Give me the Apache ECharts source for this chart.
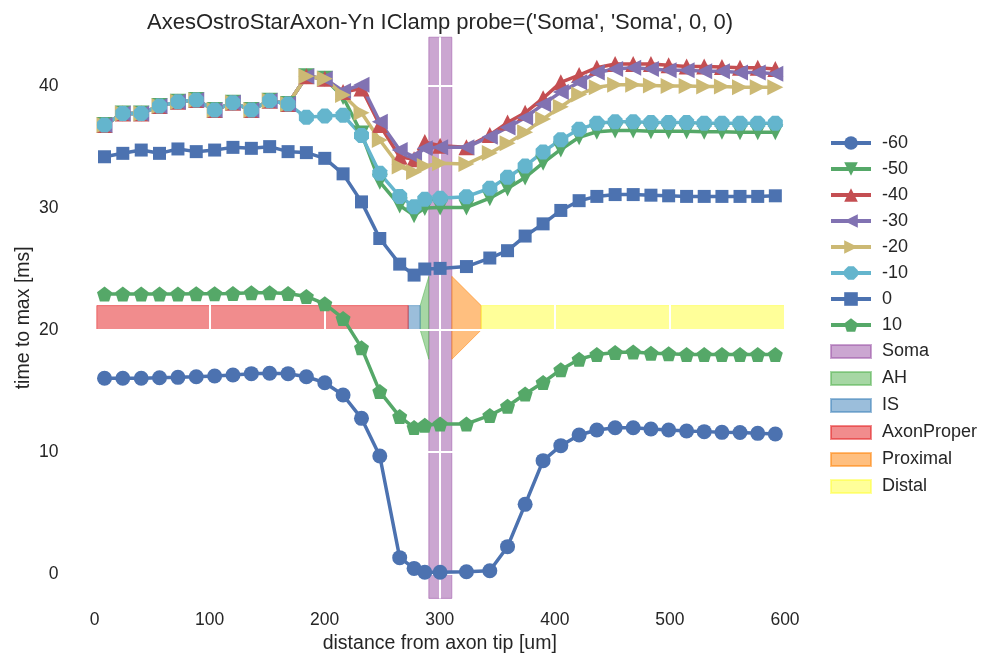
<!DOCTYPE html>
<html><head><meta charset="utf-8">
<script src="https://cdn.jsdelivr.net/npm/echarts@6/dist/echarts.min.js"></script>
<style>html,body{margin:0;padding:0;background:#fff}#c{width:984px;height:659px}</style>
</head><body><div id="c"></div>
<script>
// ---- data ----
const distance = [8.7, 24.6, 40.6, 56.5, 72.5, 88.4, 104.4, 120.3, 136.3, 152.2, 168.2, 184.1, 200.1, 216.0, 232.0, 247.9, 265.2, 277.7, 287.0, 300.3, 323.2, 343.5, 358.9, 374.2, 389.8, 405.2, 421.1, 436.5, 452.4, 468.1, 483.5, 498.9, 514.5, 529.8, 545.2, 560.9, 576.3, 591.6];
const tMinus60 = [16.04,16.04,16.04,16.09,16.12,16.17,16.23,16.31,16.42,16.45,16.42,16.17,15.68,14.67,12.76,9.67,1.34,0.46,0.14,0.14,0.19,0.27,2.24,5.71,9.29,10.52,11.39,11.8,11.99,11.99,11.89,11.8,11.72,11.67,11.61,11.6,11.53,11.48];
const tMinus50 = [36.8,37.75,37.75,38.36,38.7,38.85,38.03,38.63,38.03,38.8,38.52,40.8,40.6,39.1,36.1,32.15,30.2,29.4,30.0,30.05,30.05,30.8,31.6,32.5,33.7,34.8,35.8,36.25,36.35,36.35,36.3,36.3,36.3,36.25,36.25,36.2,36.2,36.2];
const tMinus40 = [36.8,37.75,37.75,38.36,38.7,38.85,38.03,38.63,38.03,38.8,38.52,40.8,40.6,39.5,39.8,36.8,34.2,34.0,35.4,35.1,34.97,35.98,37.0,37.8,39.0,40.3,40.9,41.5,41.8,41.8,41.8,41.7,41.6,41.6,41.55,41.5,41.5,41.4];
const tMinus30 = [36.8,37.75,37.75,38.36,38.7,38.85,38.03,38.63,38.03,38.8,38.52,40.8,40.6,39.6,40.1,37.07,34.75,34.2,34.9,34.97,34.97,35.85,36.6,37.4,38.5,39.5,40.3,41.1,41.4,41.5,41.4,41.3,41.3,41.2,41.2,41.1,41.1,41.0];
const tMinus20 = [36.8,37.75,37.75,38.36,38.7,38.85,38.03,38.63,38.03,38.8,38.52,40.8,40.6,39.26,37.8,35.57,33.4,32.95,33.44,33.66,33.6,34.5,35.3,36.2,37.3,38.3,39.3,39.9,40.1,40.1,40.05,40.0,40.0,39.95,39.95,39.9,39.9,39.9];
const tMinus10 = [36.8,37.75,37.75,38.36,38.7,38.85,38.03,38.63,38.03,38.8,38.52,37.43,37.54,37.6,35.95,32.84,30.95,30.11,30.71,30.79,30.93,31.62,32.52,33.44,34.6,35.6,36.45,36.94,37.07,37.07,37.0,37.0,37.0,36.95,36.95,36.95,36.95,36.95];
const tZero = [34.2,34.48,34.75,34.48,34.84,34.62,34.75,34.97,34.89,35.03,34.62,34.54,34.07,32.8,30.5,27.5,25.4,24.5,25.0,25.05,25.2,25.9,26.5,27.7,28.7,29.8,30.6,30.95,31.1,31.1,31.05,31.0,30.95,30.95,30.95,30.95,30.95,31.0];
const tPlus10 = [22.95,22.95,22.95,22.95,22.95,22.98,22.98,23.0,23.06,23.06,23.0,22.75,22.15,20.95,18.55,14.95,12.9,12.0,12.2,12.3,12.3,13.0,13.75,14.75,15.7,16.75,17.6,18.0,18.15,18.2,18.1,18.05,18.0,18.0,18.0,18.0,18.0,18.0];
const seriesNames = ['-60','-50','-40','-30','-20','-10','0','10'];
const seriesValues = [tMinus60,tMinus50,tMinus40,tMinus30,tMinus20,tMinus10,tZero,tPlus10];

const regionNames = ['Soma','AH','IS','AxonProper','Proximal','Distal'];
const regionStart = [290.5, 283.0, 272.6, 2.0, 310.5, 336.0];
const regionEnd   = [310.5, 290.5, 283.0, 272.6, 336.0, 600.0];
const regionFullHeight = [true,false,false,false,false,false];
const regionHalfAtStart = [0, 1.0, 1.0, 1.0, 3.4, 1.0];
const regionHalfAtEnd   = [0, 3.4, 1.0, 1.0, 1.0, 1.0];
const regionMid = 21;

const xTicks = [0,100,200,300,400,500,600];
const yTicks = [0,10,20,30,40];
const yMin = -2, yMax = 44;

// ---- styles ----
const lineColors = ['#4C72B0','#55A868','#C44E52','#8172B2','#CCB974','#64B5CD','#4C72B0','#55A868'];
const pent = 'path://M0,-1L0.951,-0.309L0.588,0.809L-0.588,0.809L-0.951,-0.309Z';
const oct = 'path://M0.383,-0.924L0.924,-0.383L0.924,0.383L0.383,0.924L-0.383,0.924L-0.924,0.383L-0.924,-0.383L-0.383,-0.924Z';
const symbols = ['circle','triangle','triangle','triangle','triangle',oct,'rect',pent];
const rotations = [0,180,0,90,-90,0,0,0];
const sizes = [15,16,16,16,16,15,13,15];
const regionFill = ['rgba(152,78,163,0.5)','rgba(77,175,74,0.5)','rgba(55,126,184,0.5)','rgba(228,26,28,0.5)','rgba(255,127,0,0.5)','rgba(255,255,51,0.5)'];
const rectIcon = 'path://M0,0L0.01,0M0,2L40,2L40,15L0,15ZM0,17L0.01,17';
const textColor = '#262626';
const font = '"Liberation Sans", Arial, sans-serif';

const series = [];
seriesNames.forEach((n,i)=>{
  series.push({
    name:n, type:'line', z:5,
    data: distance.map((d,k)=>[d, seriesValues[i][k]]),
    symbol: symbols[i], symbolSize: sizes[i], symbolRotate: rotations[i],
    showAllSymbol:true,
    lineStyle:{width:3.5,color:lineColors[i]},
    itemStyle:{color:lineColors[i], borderWidth:0},
    emphasis:{disabled:true}, animation:false
  });
});
regionNames.forEach((n,i)=>{
  series.push({
    name:n, type:'custom', z:1, animation:false,
    itemStyle:{color:regionFill[i], borderColor:regionFill[i], borderWidth:1},
    data:[[regionStart[i], regionEnd[i], regionHalfAtStart[i], regionHalfAtEnd[i]]],
    encode:{x:[0,1]},
    renderItem:function(params, api){
      const x0=api.value(0), x1=api.value(1), hs=api.value(2), he=api.value(3);
      let pts;
      if (regionFullHeight[i]) {
        pts=[api.coord([x0,yMax]),api.coord([x1,yMax]),api.coord([x1,yMin]),api.coord([x0,yMin])];
      } else {
        pts=[api.coord([x0,regionMid+hs]),api.coord([x1,regionMid+he]),api.coord([x1,regionMid-he]),api.coord([x0,regionMid-hs])];
      }
      return {type:'polygon', shape:{points:pts}, style:{fill:regionFill[i], stroke:regionFill[i], lineWidth:1}};
    }
  });
});

const legendData = seriesNames.map(n=>({name:n})).concat(regionNames.map(n=>({name:n, icon:rectIcon})));

const chart = echarts.init(document.getElementById('c'), null, {renderer:'canvas'});
chart.setOption({
  backgroundColor:'#fff',
  animation:false,
  title:{text:"AxesOstroStarAxon-Yn IClamp probe=('Soma', 'Soma', 0, 0)", left:435, textAlign:'center', top:7,
    textStyle:{fontSize:22, fontWeight:'normal', color:textColor, fontFamily:font}},
  grid:{left:94.5, right:199, top:37.2, bottom:60.6, containLabel:false},
  legend:{orient:'vertical', left:829, top:134, padding:0, itemWidth:40, itemHeight:17, itemGap:8.0,
    lineStyle:{width:4},
    data:legendData, textStyle:{fontSize:18, color:textColor, fontFamily:font, padding:[0,0,0,6]}, selectedMode:false},
  xAxis:{type:'value', min:0, max:600, z:3,
    name:'distance from axon tip [um]', nameLocation:'middle', nameGap:35, nameMoveOverlap:false,
    nameTextStyle:{fontSize:19.5,color:textColor,fontFamily:font},
    axisLine:{show:false}, axisTick:{show:false, customValues:xTicks},
    axisLabel:{customValues:xTicks, fontSize:17.5, color:textColor, fontFamily:font, margin:13},
    splitLine:{show:true, lineStyle:{color:'#ffffff', width:2}}},
  yAxis:{type:'value', min:yMin, max:yMax, z:3,
    name:'time to max [ms]', nameLocation:'middle', nameGap:61, nameMoveOverlap:false,
    nameTextStyle:{fontSize:19.5,color:textColor,fontFamily:font},
    axisLine:{show:false}, axisTick:{show:false, customValues:yTicks},
    axisLabel:{customValues:yTicks, fontSize:17.5, color:textColor, fontFamily:font, margin:36},
    splitLine:{show:true, lineStyle:{color:'#ffffff', width:2}}},
  series:series
});
</script></body></html>
